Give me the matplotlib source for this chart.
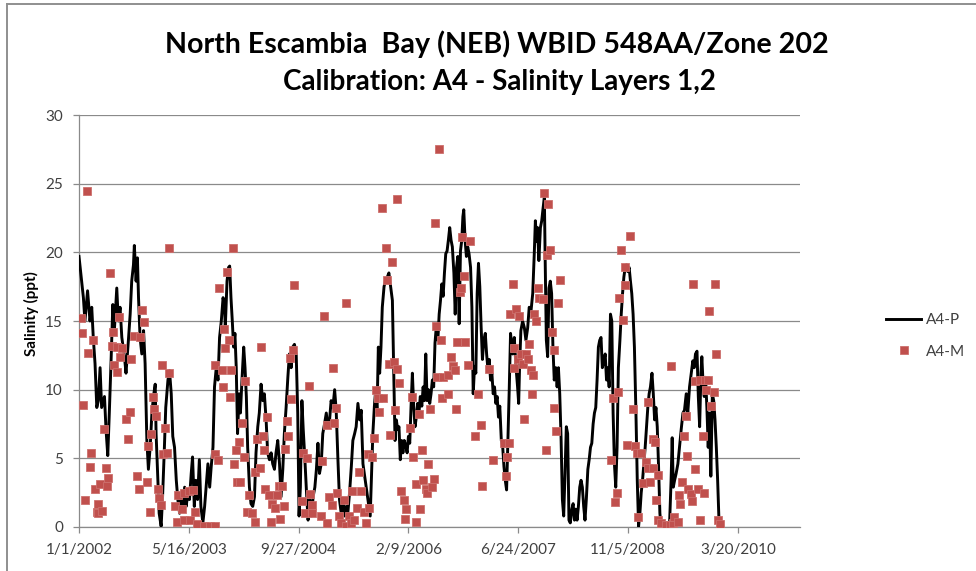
import datetime as dt
import numpy as np
import matplotlib
matplotlib.use("Agg")
import matplotlib.pyplot as plt
from matplotlib.lines import Line2D

# ---------------- data ----------------
start_date = "2002-01-01"
x_end_days = 3283
tick_step_days = 500
title_lines = ["North Escambia  Bay (NEB) WBID 548AA/Zone 202",
               "Calibration: A4 - Salinity Layers 1,2"]
y_label = "Salinity (ppt)"
y_ticks = [0, 5, 10, 15, 20, 25, 30]
series_names = ["A4-P", "A4-M"]

# A4-P (model), (days since 1/1/2002, salinity ppt)
pred_2002 = [(0,19.7),(12,17.9),(20,16.7),(27,15.0),(39,17.2),(50,15.0),(58,16.0),(65,13.8),(73,11.9),(81,8.7),
             (88,9.2),(96,11.6),(103,8.7),(116,9.5),(123,7.1),(131,5.2),(138,8.3),(146,12.1),(154,16.2),(161,14.3),
             (172,17.4),(179,15.0),(187,16.0),(195,13.8),(207,12.4),(214,11.2),(225,13.6),(233,15.5),(240,17.9),(248,19.1),
             (252,20.5),(260,17.9),(266,19.6),(271,16.7),(278,13.8),(286,12.6),(294,14.3),(301,11.9),(309,6.3),(316,4.2),
             (324,5.8),(332,8.3),(339,9.5),(347,10.4),(351,6.8),(359,3.4),(365,1.0),(374,0.05),(380,2.0),(388,5.4),
             (395,8.7),(405,10.7),(412,11.4),(420,9.7),(427,6.6),(435,5.8),(443,3.4),(450,2.0),(458,1.0),(465,2.2),
             (473,1.3),(481,2.9),(488,1.5),(496,2.5),(503,2.0),(511,3.9),(517,5.1),(525,1.5),(532,3.4),(540,2.0),
             (548,4.9),(555,1.5),(564,0.3),(572,1.5),(579,2.9),(587,4.6),(595,2.9),(602,4.4),(610,5.8),(617,10.2),
             (625,11.6),(633,10.7),(640,13.8),(648,15.0),(656,16.7),(663,16.0)]
pred_2003 = [(666,14.5),(674,17.9),(681,18.9),(686,19.0),(692,16.7),(698,15.0),(704,13.1),(710,14.1),(716,11.6),(722,6.8),
             (729,9.7),(735,8.3),(742,10.7),(750,13.1),(756,11.6),(762,9.5),(768,5.8),(776,2.9),(783,1.7),(791,1.5),
             (799,2.2),(806,5.4),(814,7.3),(821,8.3),(829,10.4),(837,9.2),(844,9.7),(852,7.8),(859,5.4),(867,4.9),
             (875,5.4),(882,4.6),(890,4.2),(897,5.4),(905,6.3),(913,4.6),(920,2.2),(928,4.2),(935,6.8),(943,8.7),
             (951,10.9),(958,12.6),(966,11.6),(973,13.1),(981,13.3),(989,12.6),(996,8.3),(1002,0.8),(1008,2.9),(1015,9.2),
             (1021,7.1),(1028,5.1),(1036,2.5),(1043,0.5),(1051,2.0),(1059,0.8),(1066,2.2),(1074,2.9),(1081,4.2),(1088,6.1),
             (1095,3.9),(1103,4.6),(1110,6.8),(1118,7.5),(1126,8.3),(1133,7.3),(1141,7.8),(1148,9.2),(1156,8.7),(1164,10.0),
             (1171,8.5),(1179,4.9),(1186,2.0),(1194,1.0),(1202,2.0),(1209,0.8),(1217,1.5),(1224,1.0),(1232,2.5),(1240,4.4),
             (1247,6.3),(1255,6.8),(1262,7.3),(1270,9.0),(1278,7.8),(1285,8.5),(1293,4.6)]
pred_2005 = [(1320,1.5),(1326,0.8),(1332,3.9),(1338,6.8),(1345,8.8),(1351,10.0),(1357,8.3),(1363,13.1),(1369,11.2),(1375,13.1),
             (1381,16.0),(1389,17.5),(1396,18.0),(1404,18.2),(1411,18.5),(1419,17.5),(1427,16.5),(1433,11.2),(1439,6.3),(1445,7.8),
             (1451,7.1),(1457,7.3),(1463,4.9),(1469,6.3),(1475,5.4),(1481,6.3),(1488,5.9),(1494,5.4),(1500,6.6),(1506,6.1),
             (1512,8.8),(1518,11.2),(1524,8.8),(1530,7.3),(1536,8.0),(1542,9.0),(1548,8.3),(1554,9.5),(1561,8.8),(1567,10.2),
             (1573,9.2),(1579,12.6),(1585,9.2),(1591,10.0),(1597,9.0),(1603,9.7),(1609,10.7),(1615,10.2),(1621,13.4),(1627,14.6),
             (1634,13.6),(1640,15.5),(1646,16.5),(1652,17.7),(1658,16.8),(1664,18.5),(1670,19.9),(1676,20.1),(1682,20.9),(1688,21.8),
             (1694,20.9),(1700,20.4),(1707,18.5),(1713,15.5),(1719,18.9),(1725,19.7),(1731,14.8),(1737,20.1),(1743,20.9),(1748,22.6),
             (1752,23.1),(1758,20.9),(1764,19.7),(1770,20.4),(1776,19.9),(1783,18.9),(1789,16.0),(1795,9.7),(1801,11.7),(1807,11.2),
             (1813,17.0),(1819,19.2),(1825,17.5),(1831,14.6),(1837,12.2),(1843,13.6),(1850,14.1),(1856,12.6),(1862,11.5),(1868,12.2),
             (1874,10.7),(1880,11.2),(1886,9.7),(1892,10.2),(1898,9.0),(1904,9.5),(1910,8.0),(1916,8.8),(1923,6.3),(1929,5.9),
             (1935,4.4),(1941,3.4),(1947,2.7),(1953,6.3),(1959,10.0),(1965,14.1)]
pred_2007 = [(1974,12.6),(1982,13.8),(1990,11.6),(1997,10.2),(2002,9.0),(2006,11.6),(2012,14.3),(2020,15.0),(2028,14.5),(2035,13.6),
             (2043,14.5),(2050,16.0),(2058,15.7),(2066,17.0),(2073,19.9),(2078,22.3),(2084,20.8),(2088,21.8),(2094,19.4),(2101,21.8),
             (2107,22.3),(2113,23.2),(2119,24.0),(2123,19.1),(2128,13.6),(2134,12.4),(2140,17.4),(2146,17.9),(2152,17.0),(2158,13.1),
             (2164,10.7),(2171,11.6),(2177,10.2),(2183,11.6),(2189,9.7),(2195,6.5),(2201,2.0),(2207,0.8),(2213,3.9),(2219,7.3),
             (2225,6.8),(2231,0.5),(2237,0.3),(2244,1.3),(2250,1.7),(2256,0.5),(2262,1.3),(2268,0.5),(2274,1.5),(2280,2.9),
             (2286,3.4),(2292,2.9),(2298,1.5),(2304,0.5),(2310,2.0),(2317,4.2),(2323,4.9),(2329,5.8),(2335,6.1),(2341,7.5),
             (2347,8.3),(2353,8.7),(2359,10.7),(2365,13.1),(2371,13.6),(2377,13.8),(2383,11.6),(2390,12.1),(2396,12.6),(2402,10.7),
             (2408,11.6),(2414,10.2),(2420,15.5),(2426,15.0),(2432,8.3),(2438,4.6),(2444,2.9),(2450,5.8),(2456,11.6),(2463,13.6),
             (2469,15.5),(2475,17.0),(2481,18.2),(2487,18.9),(2493,19.1),(2499,18.6),(2505,18.9),(2511,17.9),(2517,17.0),(2523,15.5),
             (2529,13.1),(2536,8.3),(2542,3.4),(2548,0.05),(2554,1.0),(2560,2.5),(2566,3.4),(2572,4.6),(2578,5.8),(2584,7.3),
             (2590,8.7),(2596,9.7),(2602,10.2),(2609,11.2),(2615,9.7),(2621,7.8),(2627,8.7),(2633,7.3),(2639,4.4),(2645,1.0)]
pred_2009 = [(2649,0.3),(2658,0.05),(2674,0.05),(2689,0.2),(2696,3.4),(2701,6.5),(2706,2.9),(2712,3.4),(2719,3.9),(2727,4.6),
             (2734,5.8),(2742,7.1),(2750,8.3),(2757,8.5),(2765,9.7),(2772,8.3),(2780,10.2),(2788,11.2),(2795,12.1),(2801,11.6),
             (2807,12.6),(2814,12.8),(2820,9.5),(2826,7.3),(2832,11.2),(2836,12.4),(2841,10.7),(2847,9.5),(2853,10.9),(2859,8.7),
             (2865,5.8),(2871,8.3),(2877,3.7),(2884,9.7),(2890,9.2),(2896,7.8),(2902,5.8),(2908,3.4),(2914,0.5),(2917,0.05)]

# A4-M (measured), (days since 1/1/2002, salinity ppt)
meas_2002 = [(35,24.5),(412,20.3),(141,18.5),(9,15.2),(15,14.1),(637,17.4),(289,15.8),(297,14.9),(182,15.3),(157,14.2),
             (62,13.6),(43,12.7),(149,13.2),(172,13.1),(195,13.0),(187,12.4),(237,12.2),(252,13.9),(278,13.8),(620,11.8),
             (160,11.8),(175,11.3),(377,11.8),(411,11.2),(339,9.5),(342,8.6),(351,8.1),(20,8.9),(230,8.4),(213,7.9),
             (392,7.2),(114,7.1),(225,6.4),(329,6.8),(316,5.9),(382,5.3),(402,5.4),(620,5.3),(633,4.9),(55,5.4),
             (50,4.4),(122,4.3),(134,3.6),(126,3.0),(96,3.1),(73,2.8),(263,3.7),(274,2.8),(309,3.3),(27,2.0),
             (85,1.7),(80,1.1),(106,1.2),(88,1.0),(324,1.1),(359,2.8),(362,2.1),(374,1.6),(435,1.5),(453,2.3),
             (471,1.3),(476,2.5),(499,2.6),(517,2.7),(526,1.1),(446,0.4),(476,0.5),(506,0.5),(537,0.2),(567,0.1),
             (598,0.1),(618,0.1)]
meas_2003 = [(701,20.3),(674,18.6),(659,14.4),(681,13.6),(666,13.0),(651,11.4),(692,11.4),(656,10.2),(689,9.5),(981,17.6),
             (1115,15.4),(1218,16.3),(829,13.1),(975,12.9),(960,12.3),(1158,11.6),(757,10.6),(1046,10.3),(967,9.3),(856,8.0),
             (945,7.7),(742,7.6),(1171,8.7),(1127,7.4),(1161,7.6),(952,6.6),(811,6.4),(838,6.6),(727,6.2),(715,5.6),
             (841,5.6),(940,5.7),(1021,5.4),(1039,5.0),(750,5.1),(707,4.6),(1107,4.8),(823,4.3),(800,4.0),(1316,5.3),
             (1275,4.0),(719,3.3),(735,3.3),(849,2.8),(864,2.3),(910,3.0),(925,3.0),(902,2.3),(879,1.7),(894,1.4),
             (932,1.5),(872,0.4),(917,0.6),(773,2.3),(765,1.1),(788,1.0),(803,0.4),(1016,1.9),(1054,2.4),(1031,1.0),
             (1059,1.6),(1062,1.0),(1100,0.8),(1127,0.3),(1138,2.2),(1153,1.6),(1176,2.5),(1206,2.0),(1186,0.8),(1194,0.3),
             (1214,0.05),(1229,0.8),(1237,0.3),(1244,2.6),(1282,2.6),(1267,1.4),(1252,0.5),(1297,1.1),(1305,0.3),(1320,1.4)]
meas_2005 = [(1640,27.5),(1449,23.9),(1378,23.2),(1620,22.1),(1396,20.3),(1424,19.3),(1404,18.0),(1746,21.1),(1781,20.8),(1751,18.3),
             (1739,17.4),(1734,17.1),(1962,15.5),(1624,14.6),(1647,13.6),(1723,13.5),(1758,13.5),(1696,12.4),(1704,11.7),(1713,11.4),
             (1769,11.8),(1411,11.9),(1434,12.0),(1446,11.5),(1457,10.5),(1632,10.9),(1658,10.9),(1682,11.1),(1682,9.7),(1655,9.4),
             (1716,8.6),(1865,11.5),(1815,9.7),(1351,10.0),(1363,9.4),(1384,9.4),(1366,8.4),(1437,8.5),(1515,9.5),(1548,8.2),
             (1599,8.6),(1507,7.2),(1416,6.7),(1345,6.5),(1830,7.4),(1802,6.6),(1519,5.1),(1564,5.6),(1588,4.6),(1883,4.9),
             (1933,6.1),(1956,6.1),(1947,5.1),(1944,3.7),(1837,3.0),(1332,5.1),(1465,2.6),(1480,2.0),(1491,1.3),(1484,0.6),
             (1533,0.4),(1553,1.3),(1533,3.1),(1568,3.4),(1586,2.5),(1609,2.9),(1617,3.5),(1582,2.8)]
meas_2007 = [(2119,24.3),(2137,23.5),(2511,21.2),(2145,20.2),(2469,20.2),(2129,19.8),(2488,18.9),(2484,17.6),(2189,18.0),(1974,17.7),
             (2091,17.4),(2096,16.7),(2111,16.6),(2180,16.3),(2461,16.7),(1990,15.9),(2005,15.4),(2073,15.5),(2082,15.0),(2476,15.1),
             (2152,14.2),(2050,13.3),(2161,12.9),(1982,13.0),(2012,12.6),(2035,12.6),(1997,12.2),(2043,12.2),(2020,11.9),(1979,11.6),
             (2058,11.4),(2069,11.1),(2061,9.7),(2453,9.8),(2431,9.4),(2590,9.1),(2164,8.7),(2522,8.6),(2025,7.9),(2172,7.0),
             (2613,6.4),(2624,6.2),(2496,6.0),(2532,5.9),(2542,5.4),(2560,5.4),(2126,5.6),(2423,4.9),(2580,4.7),(2590,4.3),
             (2613,4.3),(2636,3.8),(2568,3.2),(2598,3.3),(2450,2.5),(2441,1.8),(2628,2.0),(2545,0.7),(2636,0.5)]
meas_2009 = [(2798,17.7),(2896,17.7),(2867,15.7),(2902,12.6),(2696,11.7),(2806,10.6),(2826,10.7),(2849,10.7),(2864,10.7),(2853,10.0),
             (2890,9.8),(2879,8.8),(2762,8.1),(2756,6.6),(2841,6.6),(2769,5.2),(2807,4.2),(2747,3.3),(2772,2.8),(2818,2.8),
             (2845,2.5),(2731,2.3),(2785,2.4),(2789,1.9),(2738,1.7),(2826,0.5),(2909,0.5),(2920,0.2),
             (2651,0.3),(2674,0.15),(2689,0.15),(2704,0.3),(2710,0.7),(2727,0.4)]

# ---------------- figure ----------------
W, H = 976, 571
fig = plt.figure(figsize=(W / 100, H / 100), dpi=100)
fig.patch.set_facecolor("white")

FONT = ["Lato", "DejaVu Sans"]
TXT = "#404040"
GRID = "#8a8a8a"

L, R, T, B = 79, 800, 115, 527
ax = fig.add_axes([L / W, 1 - B / H, (R - L) / W, (B - T) / H])

base = np.datetime64(start_date)
def to_dates(pairs):
    pairs = sorted(pairs)
    d = base + np.array([p[0] for p in pairs]).astype("timedelta64[D]")
    v = np.array([p[1] for p in pairs])
    return d, v

pd_, pv = to_dates(pred_2002 + pred_2003 + pred_2005 + pred_2007 + pred_2009)
md, mv = to_dates(meas_2002 + meas_2003 + meas_2005 + meas_2007 + meas_2009)

ax.plot(pd_, pv, color="black", lw=2.1, solid_joinstyle="round", zorder=3)
ax.plot(md, mv, ls="none", marker="s", ms=5.6, mfc="#C0504D", mec="#CC6F6C",
        mew=0.6, zorder=4)

ax.set_ylim(0, 30)
ax.set_yticks(y_ticks)
ax.set_xlim(base, base + np.timedelta64(x_end_days, "D"))
xt = [base + np.timedelta64(k * tick_step_days, "D") for k in range(7)]
ax.set_xticks(xt)
def fmt(d):
    d = d.astype(dt.datetime)
    return f"{d.month}/{d.day}/{d.year}"
ax.set_xticklabels([fmt(d) for d in xt])

ax.grid(axis="y", color=GRID, lw=0.9)
ax.set_axisbelow(True)
for s in ["top", "right"]:
    ax.spines[s].set_visible(False)
for s in ["left", "bottom"]:
    ax.spines[s].set_color(GRID)
    ax.spines[s].set_linewidth(0.9)
ax.tick_params(direction="out", length=4.5, width=0.9, color=GRID,
               labelcolor=TXT, labelsize=11, pad=7)
for lab in ax.get_xticklabels() + ax.get_yticklabels():
    lab.set_family(FONT)

fig.text(31 / W, 1 - 314 / H, y_label, rotation=90, ha="center", va="center",
         fontsize=11, fontweight="bold", color="black", family=FONT)

# title
fig.canvas.draw()
rend = fig.canvas.get_renderer()
def fit_text(s, xc, ybase, target_w, size):
    t = fig.text(xc / W, 1 - ybase / H, s, ha="center", va="baseline",
                 fontsize=size, fontweight="bold", color="black", family=FONT)
    w = t.get_window_extent(rend).width
    t.set_fontsize(size * target_w / w)
    return t
fit_text(title_lines[0], 496.5, 53, 663, 20)
fit_text(title_lines[1], 499.5, 90, 433, 20)

# legend
handles = [Line2D([], [], color="black", lw=2.1),
           Line2D([], [], ls="none", marker="s", ms=5.6, mfc="#C0504D", mec="#CC6F6C", mew=0.6)]
leg = fig.legend(handles, series_names, loc="center left",
                 bbox_to_anchor=(886 / W, 1 - 336 / H), frameon=False,
                 fontsize=11, handlelength=2.3, handletextpad=0.3,
                 labelspacing=1.15, borderpad=0, borderaxespad=0,
                 prop={"family": FONT, "size": 11})
for t in leg.get_texts():
    t.set_color(TXT)

# chart outer border (left and top visible)
fig.add_artist(Line2D([7 / W, 7 / W], [0, 1 - 4 / H], transform=fig.transFigure,
                      color="#8f8f8f", lw=1.4))
fig.add_artist(Line2D([7 / W, 1], [1 - 4 / H, 1 - 4 / H], transform=fig.transFigure,
                      color="#8f8f8f", lw=1.4))

fig.savefig("out.png", dpi=100, facecolor="white")
